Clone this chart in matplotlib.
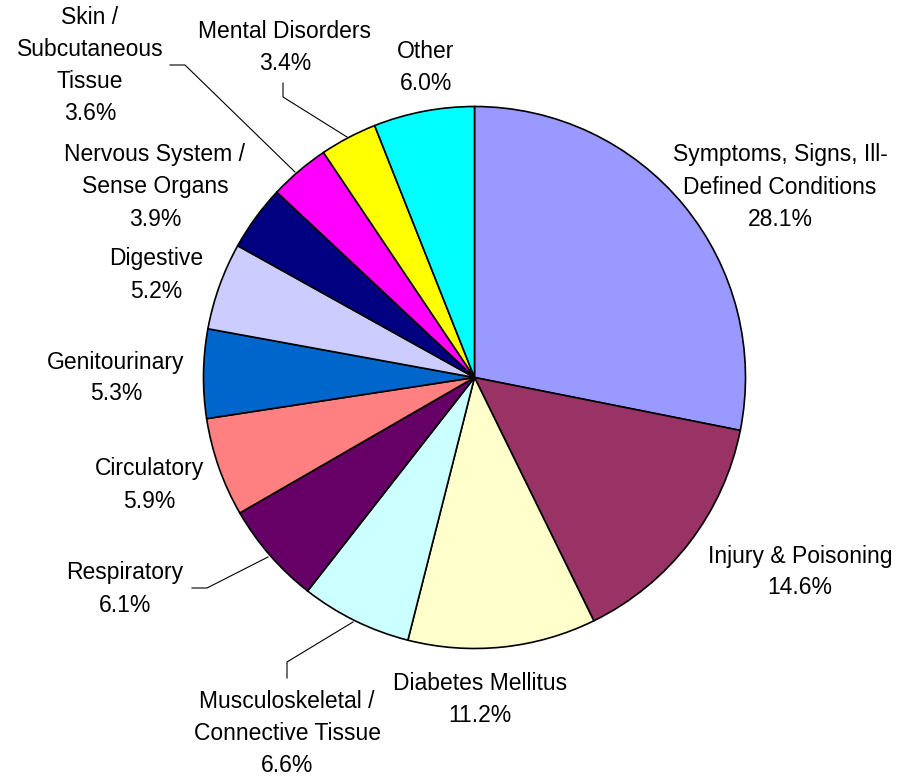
import matplotlib.pyplot as plt

plt.rcParams['font.family'] = ['Liberation Sans', 'DejaVu Sans']

# Share of hospital discharges by diagnosis group
categories = ['Symptoms, Signs, Ill-\nDefined Conditions', 'Injury & Poisoning', 'Diabetes Mellitus',
              'Musculoskeletal /\nConnective Tissue', 'Respiratory', 'Circulatory', 'Genitourinary',
              'Digestive', 'Nervous System /\nSense Organs', 'Skin /\nSubcutaneous\nTissue',
              'Mental Disorders', 'Other']
shares = [28.1, 14.6, 11.2, 6.6, 6.1, 5.9, 5.3, 5.2, 3.9, 3.6, 3.4, 6.0]
colors = ['#9999FF', '#993366', '#FFFFCC', '#CCFFFF', '#660066', '#FF8080', '#0066CC',
          '#CCCCFF', '#000080', '#FF00FF', '#FFFF00', '#00FFFF']

W, H = 901, 776
# label block centres, in image pixels (x, y from top)
label_pos = [(780, 187), (800, 572), (480, 700), (287, 733), (125, 589), (149, 485),
             (116, 378), (156, 275), (155, 187), (90, 65), (285, 48), (426, 68)]
# leader lines (image pixels) for the labels that sit away from their slice
leaders = {
    'skin': [(170, 65), (185, 65), (295, 172)],
    'mental': [(283, 83), (283, 97), (347, 137)],
    'resp': [(192, 588), (207, 588), (268, 557)],
    'musc': [(287, 678), (287, 662), (353, 622)],
}

fig = plt.figure(figsize=(W / 100, H / 100), dpi=100)
ax = fig.add_axes([0, 0, 1, 1])

ax.pie(shares, colors=colors, startangle=90, counterclock=False,
       center=(474.5, H - 377.5), radius=271,
       wedgeprops=dict(edgecolor='black', linewidth=1.2))

for cat, val, (px, py) in zip(categories, shares, label_pos):
    ax.text(px, H - py, '{}\n{:.1f}%'.format(cat, val), ha='center', va='center',
            fontsize=16.5, linespacing=1.5, color='black')

for pts in leaders.values():
    ax.plot([p[0] for p in pts], [H - p[1] for p in pts], color='black', lw=0.8)

ax.set_xlim(0, W)
ax.set_ylim(0, H)
ax.set_aspect('equal')
ax.axis('off')

fig.savefig('out.png', dpi=100)
